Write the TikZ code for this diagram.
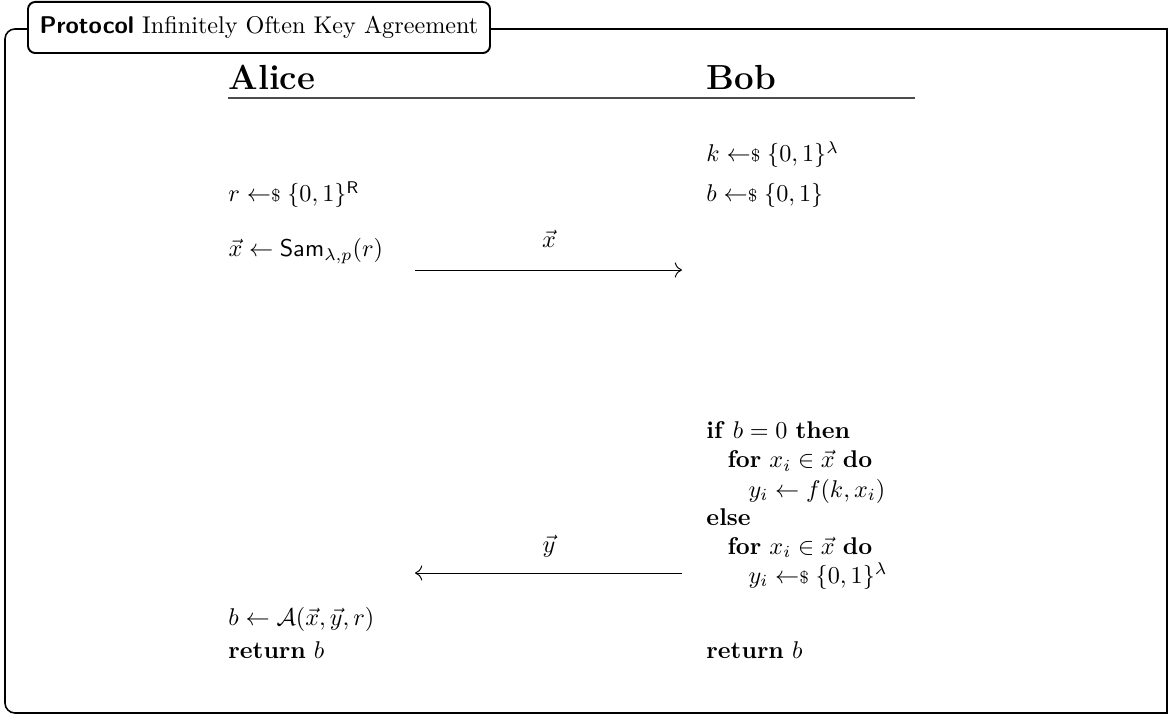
\documentclass[tikz,border=0pt]{standalone}
\usetikzlibrary{arrows.meta}
\newcommand{\smp}{\mathrel{\leftarrow\mkern-5mu{\scriptstyle\$}}}
\begin{document}
\begin{tikzpicture}[x=0.4132pt,y=-0.4132pt,
  txt/.style={anchor=base west, inner sep=0pt},
  head/.style={anchor=base west, inner sep=0pt, font=\Large\bfseries},
  framestyle/.style={line width=0.65pt},
  rulestyle/.style={line width=0.45pt, black!70},
  msg/.style={line width=0.4pt, -{To[length=3pt]}},
  lbl/.style={anchor=base, inner sep=0pt}]
\useasboundingbox (0,0) rectangle (1173,718);
% frame
\draw[framestyle, line join=miter] (1167,29) -- (1167,713) -- (15,713)
  arc[start angle=90, end angle=180, radius=10] -- (5,39)
  arc[start angle=180, end angle=270, radius=10] -- cycle;
\node[draw, line width=0.8pt, rounded corners=3pt, fill=white, inner sep=0pt,
  minimum width=190.9pt, minimum height=21.1pt] (title) at (259,27.5)
  {\textsf{\bfseries Protocol} Infinitely Often Key Agreement};
% headers
\node[head] (alice) at (228,90) {Alice};
\node[head] (bob) at (706,90) {Bob};
\coordinate (rl) at (228,98);
\coordinate (rr) at (915,98);
\draw[rulestyle] (rl) -- (rr);
% Bob
\node[txt] (k) at (706,162) {$k \smp \{0,1\}^\lambda$};
\node[txt] (bb) at (706,202) {$b \smp \{0,1\}$};
% Alice
\node[txt] (r) at (228,202) {$r \smp \{0,1\}^{\mathsf{R}}$};
\node[txt] (x) at (228,257) {$\vec{x} \leftarrow \mathsf{Sam}_{\lambda,p}(r)$};
% message 1
\coordinate (m1a) at (415,270);
\coordinate (m1b) at (682,270);
\draw[msg] (m1a) -- (m1b);
\node[lbl] (m1l) at (549,248) {$\vec{x}$};
% Bob loop
\node[txt] (if) at (706,439) {\textbf{if} $b=0$ \textbf{then}};
\node[txt] (for1) at (727,468) {\textbf{for} $x_i \in \vec{x}$ \textbf{do}};
\node[txt] (y1) at (748,497) {$y_i \leftarrow f(k,x_i)$};
\node[txt] (else) at (706,525) {\textbf{else}};
\node[txt] (for2) at (727,554) {\textbf{for} $x_i \in \vec{x}$ \textbf{do}};
\node[txt] (y2) at (748,583) {$y_i \smp \{0,1\}^\lambda$};
% message 2
\coordinate (m2a) at (682,573);
\coordinate (m2b) at (415,573);
\draw[msg] (m2a) -- (m2b);
\node[lbl] (m2l) at (549,552) {$\vec{y}$};
% final
\node[txt] (ba) at (228,625) {$b \leftarrow \mathcal{A}(\vec{x},\vec{y},r)$};
\node[txt] (ra) at (228,658) {\textbf{return} $b$};
\node[txt] (rb) at (706,658) {\textbf{return} $b$};
\end{tikzpicture}
\end{document}
